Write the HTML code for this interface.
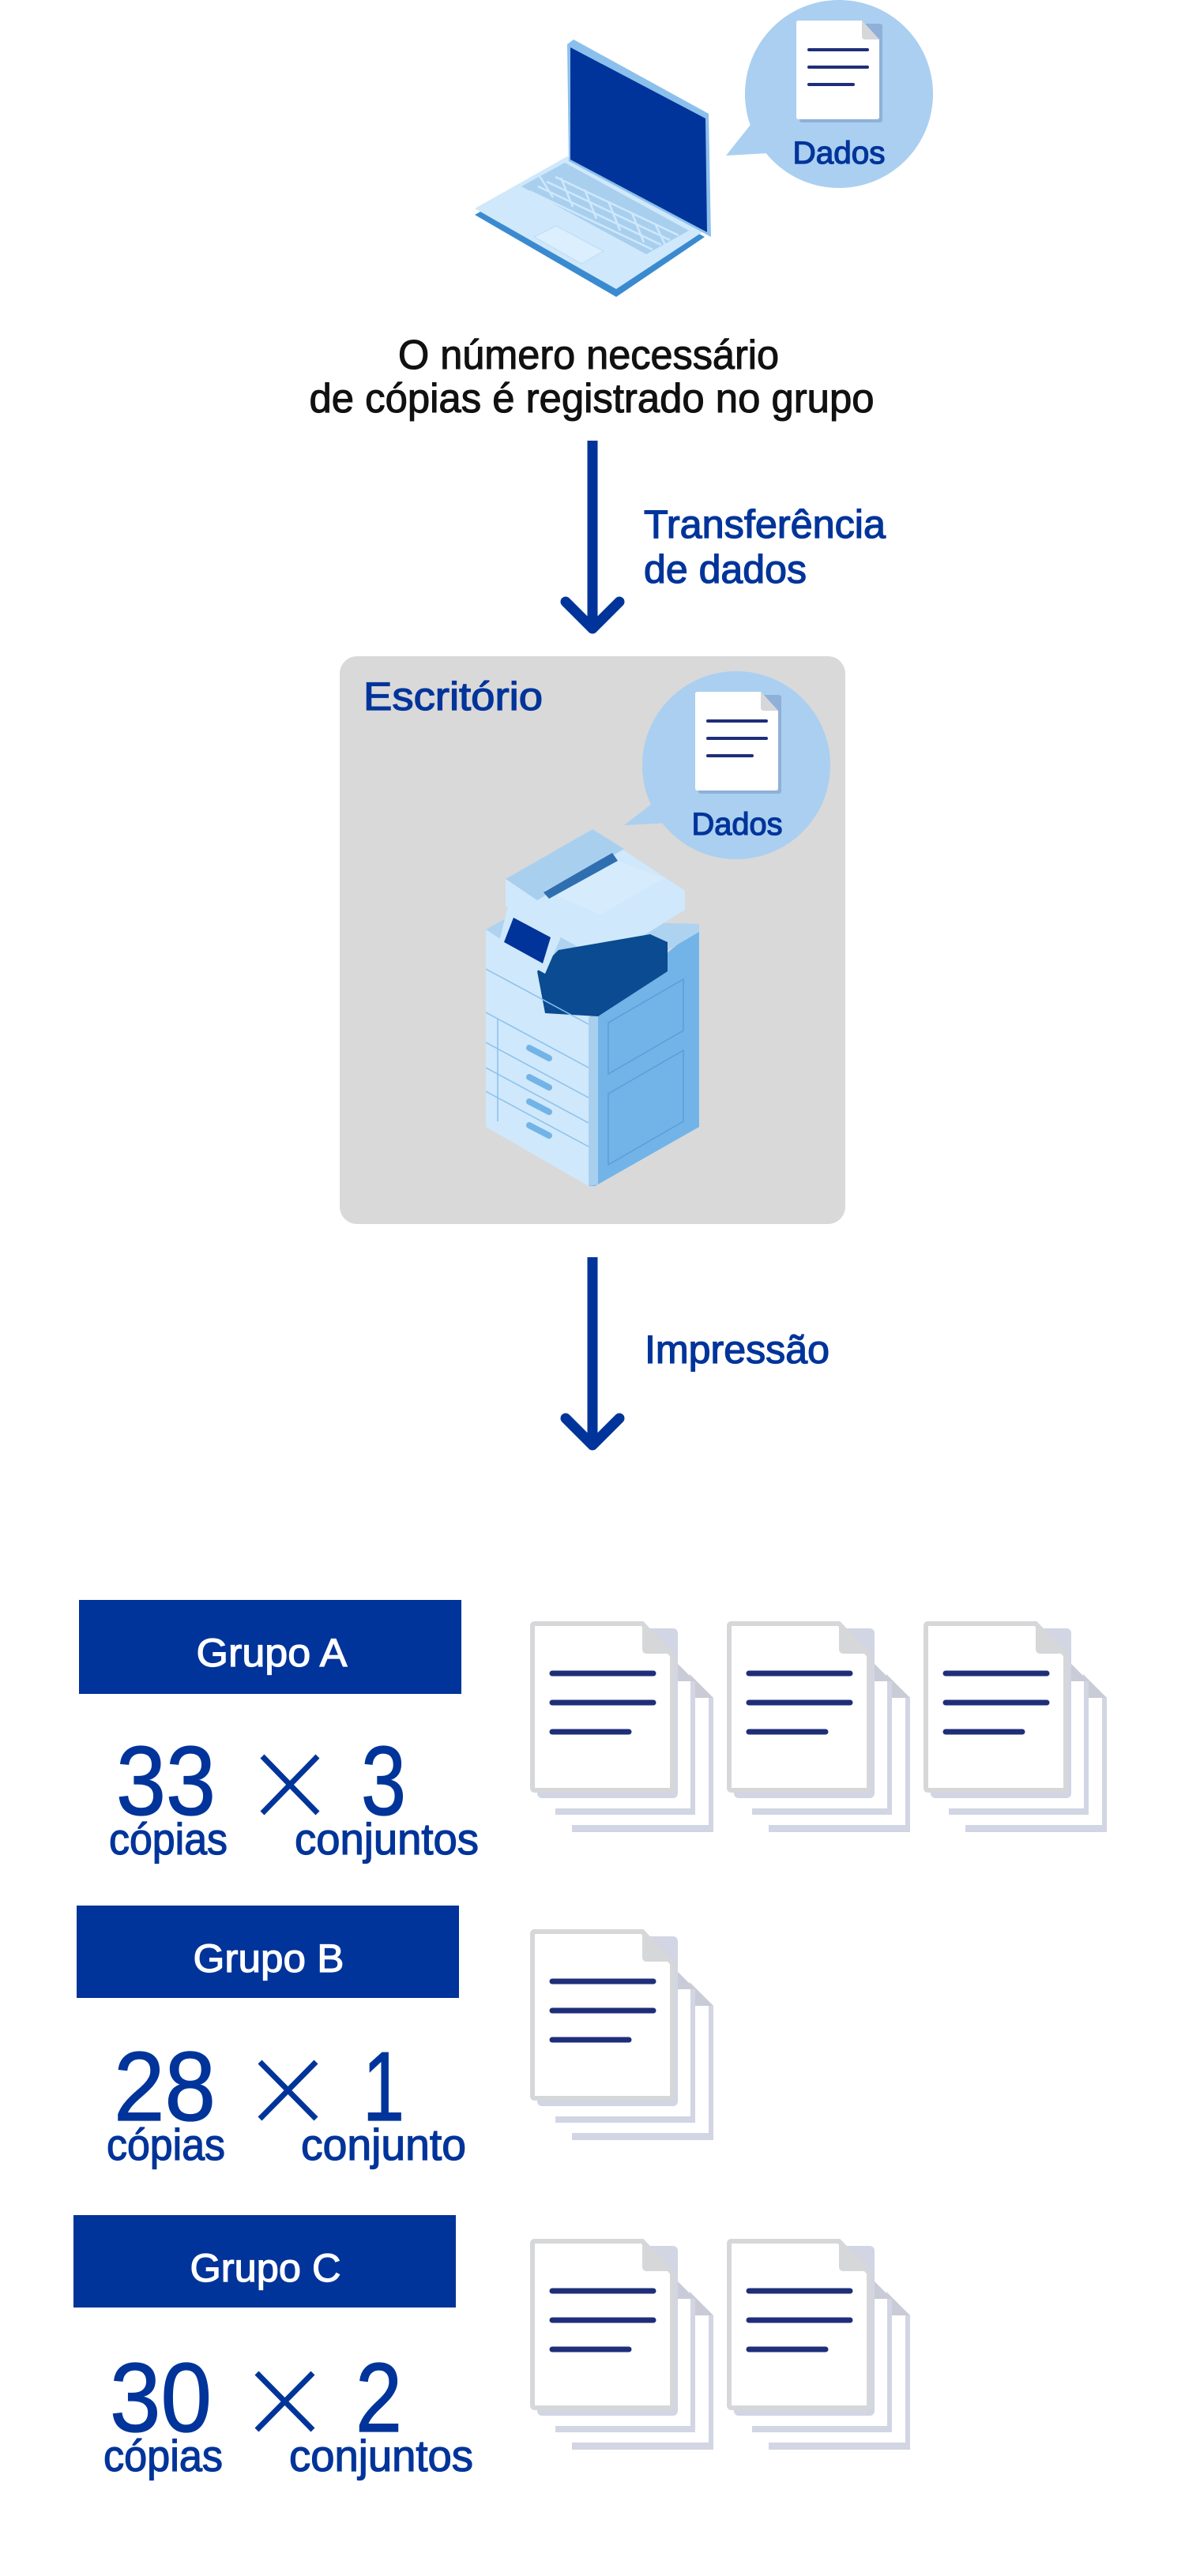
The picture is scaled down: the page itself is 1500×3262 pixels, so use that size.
<!DOCTYPE html>
<html><head><meta charset="utf-8"><style>
html,body{margin:0;padding:0;background:#fff;}
svg{display:block;}
text{font-family:"Liberation Sans","Noto Sans CJK JP",sans-serif;}
.b{stroke:#00349a;stroke-width:1.3;}
.w{stroke:#fff;stroke-width:1.2;}
.k{stroke:#111;stroke-width:1.1;}
</style></head><body>
<svg width="1500" height="3262" viewBox="0 0 1500 3262" xmlns="http://www.w3.org/2000/svg">
<defs>
<g id="stack">
  <path d="M53 67 H202 L232 97 V267 H53 Z" fill="#d2d5e3"/>
  <path d="M53 67 H202 L226 91 V258 H53 Z" fill="#fff"/>
  <path d="M202 67 L232 97 H202 Z" fill="#c9ccd6"/>
  <path d="M32 47 H180 L209 76 V245 H32 Z" fill="#d2d5e3"/>
  <path d="M32 47 H180 L203 70 V237 H32 Z" fill="#fff"/>
  <path d="M180 47 L209 76 H180 Z" fill="#c9ccd6"/>
  <rect x="9" y="9" width="178" height="215" rx="6" fill="#d2d5e3"/>
  <path d="M6 3 H142 L180 43 V211 Q180 214 177 214 H6 Q3 214 3 211 V6 Q3 3 6 3 Z" fill="#fff" stroke="#d6d7d9" stroke-width="6"/>
  <path d="M142 3 L180 41 H148 Q142 41 142 35 Z" fill="#d6d7d9"/>
  <g stroke="#1f2e78" stroke-width="7" stroke-linecap="round">
    <line x1="28" y1="66" x2="156" y2="66"/>
    <line x1="28" y1="103" x2="156" y2="103"/>
    <line x1="28" y1="140" x2="125" y2="140"/>
  </g>
</g>
<g id="bdoc">
  <rect x="4" y="4" width="105" height="125" rx="3" fill="#8fb0d8"/>
  <path d="M0 3 Q0 0 3 0 H83 L105 24 V122 Q105 125 102 125 H3 Q0 125 0 122 Z" fill="#fff"/>
  <path d="M83 0 L105 24 H87 Q83 24 83 20 Z" fill="#d6d7d9"/>
  <g stroke="#1f2e78" stroke-width="4" stroke-linecap="round">
    <line x1="16" y1="37" x2="90" y2="37"/>
    <line x1="16" y1="59" x2="90" y2="59"/>
    <line x1="16" y1="81" x2="72" y2="81"/>
  </g>
</g>
</defs>

<!-- Laptop -->
<polygon points="601,272 718,206 892,300 780,376" fill="#3a8ad0"/>
<polygon points="601,264 718,198 892,292 780,366" fill="#cfe8fb"/>
<polygon points="660,236 715,206 872,292 818,322" fill="#a9cfef"/>
<g stroke="#cfe8fb" stroke-width="2.5">
<line x1="670" y1="242" x2="826" y2="316"/>
<line x1="681" y1="236" x2="837" y2="310"/>
<line x1="692" y1="230" x2="848" y2="304"/>
<line x1="703" y1="224" x2="859" y2="298"/>
<line x1="683" y1="223" x2="700" y2="250"/>
<line x1="710" y1="225" x2="725" y2="262"/>
<line x1="740" y1="240" x2="755" y2="277"/>
<line x1="770" y1="255" x2="785" y2="292"/>
<line x1="800" y1="270" x2="815" y2="307"/>
<line x1="830" y1="285" x2="842" y2="310"/>
</g>
<polygon points="676,300 704,286 764,318 736,334" fill="#dcefff" stroke="#c4e0f7" stroke-width="1.5"/>
<polygon points="718,56 726,50 897,144 900,300 720,204" fill="#8cc0ec"/>
<polygon points="722,60 893,150 895,294 722,202" fill="#00349a"/>
<!-- Bubble 1 -->
<circle cx="1062" cy="119" r="119" fill="#aacff0"/>
<polygon points="950,158 919,197 972,194" fill="#aacff0"/>
<use href="#bdoc" x="1008" y="26"/>
<text class="b" x="1062" y="207" font-size="40" fill="#00349a" text-anchor="middle" textLength="117" lengthAdjust="spacingAndGlyphs">Dados</text>

<!-- Top text -->
<text class="k" x="745" y="467" font-size="52" fill="#111" text-anchor="middle" textLength="482" lengthAdjust="spacingAndGlyphs">O número necessário</text>
<text class="k" x="749" y="522" font-size="52" fill="#111" text-anchor="middle" textLength="715" lengthAdjust="spacingAndGlyphs">de cópias é registrado no grupo</text>

<!-- Arrow 1 -->
<line x1="750" y1="558" x2="750" y2="792" stroke="#00349a" stroke-width="13"/>
<polyline points="716,762 750,796 784,762" fill="none" stroke="#00349a" stroke-width="13" stroke-linecap="round" stroke-linejoin="round"/>
<text class="b" x="815" y="681" font-size="50" fill="#00349a" textLength="306" lengthAdjust="spacingAndGlyphs">Transferência</text>
<text class="b" x="815" y="738" font-size="50" fill="#00349a" textLength="206" lengthAdjust="spacingAndGlyphs">de dados</text>

<!-- Office box -->
<rect x="430" y="831" width="640" height="719" rx="22" fill="#d9d9d9"/>
<text class="b" x="460" y="899" font-size="50" fill="#00349a" textLength="227" lengthAdjust="spacingAndGlyphs">Escritório</text>
<circle cx="932" cy="969" r="119" fill="#aacff0"/>
<polygon points="825,1018 790,1045 845,1042" fill="#aacff0"/>
<use href="#bdoc" x="880" y="876"/>
<text class="b" x="933" y="1057" font-size="40" fill="#00349a" text-anchor="middle" textLength="115" lengthAdjust="spacingAndGlyphs">Dados</text>

<!-- Printer -->
<polygon points="615,1177 745,1247 745,1502 615,1427" fill="#cfe8fb"/>
<polygon points="745,1290 885,1173 885,1427 753,1502 745,1502" fill="#72b4e7"/>
<polygon points="745,1290 757,1283 757,1500 745,1502" fill="#a9cfef"/>
<polygon points="615,1177 640,1163 885,1170 885,1180 745,1262" fill="#aed3f1"/>
<polygon points="640,1113 750,1050 867,1128 867,1152 763,1217 640,1147" fill="#cfe8fb"/>
<polygon points="640,1113 750,1050 790,1075 680,1140" fill="#a9cfef"/>
<polygon points="690,1128 770,1085 840,1112 760,1158" fill="#d6ecfd"/>
<polygon points="688,1130 775,1080 782,1090 695,1138" fill="#2f6fb0"/>
<polygon points="680,1230 707,1203 823,1183 845,1193 845,1230 757,1287 690,1283" fill="#0a4b91"/>
<polygon points="630,1200 643,1147 712,1182 690,1233" fill="#cfe8fb"/>
<polygon points="638,1193 650,1162 697,1187 687,1220" fill="#00349a"/>
<g stroke="#8cc0ec" stroke-width="1.5" fill="none">
<line x1="615" y1="1227" x2="745" y2="1297"/>
<line x1="615" y1="1282" x2="745" y2="1352"/>
<line x1="615" y1="1320" x2="745" y2="1390"/>
<line x1="615" y1="1352" x2="745" y2="1422"/>
<line x1="615" y1="1382" x2="745" y2="1452"/>
<line x1="630" y1="1290" x2="630" y2="1420"/>
</g>
<g stroke="#72b4e7" stroke-width="8" stroke-linecap="round">
<line x1="670" y1="1327" x2="695" y2="1340"/>
<line x1="670" y1="1364" x2="695" y2="1377"/>
<line x1="670" y1="1395" x2="695" y2="1408"/>
<line x1="670" y1="1425" x2="695" y2="1438"/>
</g>
<g stroke="#5b9ed6" stroke-width="1.5" fill="none">
<polygon points="770,1295 865,1240 865,1305 770,1360"/>
<polygon points="770,1385 865,1330 865,1420 770,1475"/>
</g>

<!-- Arrow 2 -->
<line x1="750" y1="1592" x2="750" y2="1826" stroke="#00349a" stroke-width="13"/>
<polyline points="716,1796 750,1830 784,1796" fill="none" stroke="#00349a" stroke-width="13" stroke-linecap="round" stroke-linejoin="round"/>
<text class="b" x="816" y="1726" font-size="50" fill="#00349a" textLength="234" lengthAdjust="spacingAndGlyphs">Impressão</text>

<!-- Group A -->
<rect x="100" y="2026" width="484" height="119" fill="#00349a"/>
<text class="w" x="344" y="2110" font-size="50" fill="#fff" text-anchor="middle" textLength="191" lengthAdjust="spacingAndGlyphs">Grupo A</text>
<text class="b" x="147" y="2298" font-size="124" fill="#00349a" textLength="126" lengthAdjust="spacingAndGlyphs">33</text>
<g stroke="#00349a" stroke-width="7"><line x1="332" y1="2224" x2="402" y2="2296"/><line x1="402" y1="2224" x2="332" y2="2296"/></g>
<text class="b" x="457" y="2298" font-size="124" fill="#00349a" textLength="57" lengthAdjust="spacingAndGlyphs">3</text>
<text class="b" x="138" y="2348" font-size="56" fill="#00349a" textLength="150" lengthAdjust="spacingAndGlyphs">cópias</text>
<text class="b" x="373" y="2348" font-size="56" fill="#00349a" textLength="233" lengthAdjust="spacingAndGlyphs">conjuntos</text>
<use href="#stack" x="671" y="2053"/>
<use href="#stack" x="920" y="2053"/>
<use href="#stack" x="1169" y="2053"/>

<!-- Group B -->
<rect x="97" y="2413" width="484" height="117" fill="#00349a"/>
<text class="w" x="340" y="2497" font-size="50" fill="#fff" text-anchor="middle" textLength="191" lengthAdjust="spacingAndGlyphs">Grupo B</text>
<text class="b" x="144" y="2685" font-size="124" fill="#00349a" textLength="129" lengthAdjust="spacingAndGlyphs">28</text>
<g stroke="#00349a" stroke-width="7"><line x1="329" y1="2611" x2="400" y2="2683"/><line x1="400" y1="2611" x2="329" y2="2683"/></g>
<text class="b" x="459" y="2685" font-size="124" fill="#00349a" textLength="53" lengthAdjust="spacingAndGlyphs">1</text>
<text class="b" x="135" y="2735" font-size="56" fill="#00349a" textLength="150" lengthAdjust="spacingAndGlyphs">cópias</text>
<text class="b" x="381" y="2735" font-size="56" fill="#00349a" textLength="209" lengthAdjust="spacingAndGlyphs">conjunto</text>
<use href="#stack" x="671" y="2443"/>

<!-- Group C -->
<rect x="93" y="2805" width="484" height="117" fill="#00349a"/>
<text class="w" x="336" y="2889" font-size="50" fill="#fff" text-anchor="middle" textLength="191" lengthAdjust="spacingAndGlyphs">Grupo C</text>
<text class="b" x="139" y="3079" font-size="124" fill="#00349a" textLength="129" lengthAdjust="spacingAndGlyphs">30</text>
<g stroke="#00349a" stroke-width="7"><line x1="325" y1="3005" x2="396" y2="3077"/><line x1="396" y1="3005" x2="325" y2="3077"/></g>
<text class="b" x="450" y="3079" font-size="124" fill="#00349a" textLength="59" lengthAdjust="spacingAndGlyphs">2</text>
<text class="b" x="131" y="3129" font-size="56" fill="#00349a" textLength="151" lengthAdjust="spacingAndGlyphs">cópias</text>
<text class="b" x="366" y="3129" font-size="56" fill="#00349a" textLength="233" lengthAdjust="spacingAndGlyphs">conjuntos</text>
<use href="#stack" x="671" y="2835"/>
<use href="#stack" x="920" y="2835"/>
</svg>
</body></html>
